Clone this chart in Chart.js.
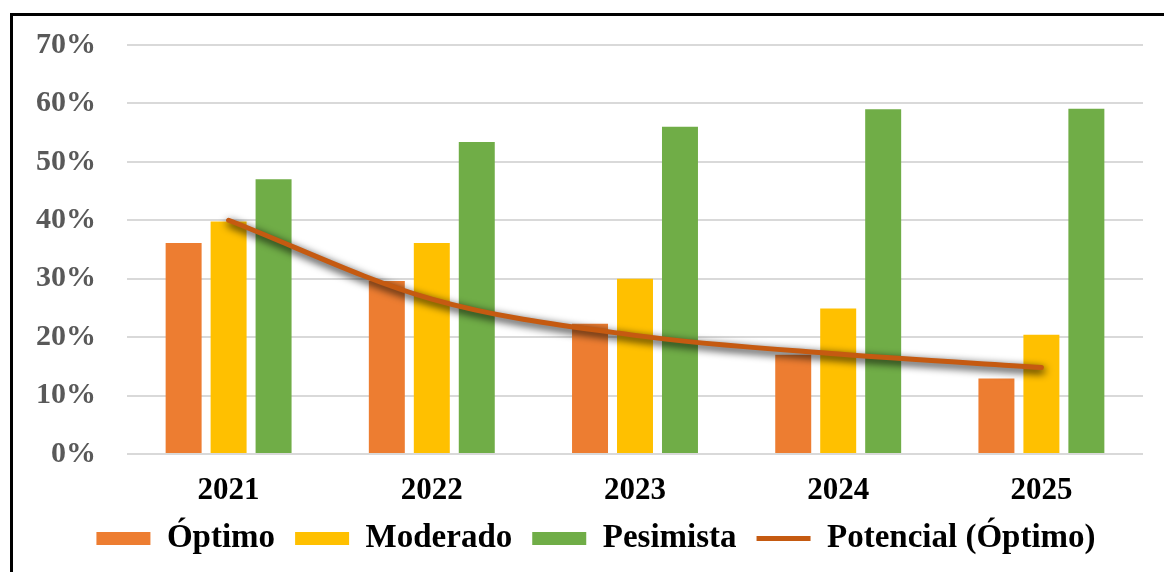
<!DOCTYPE html>
<html>
<head>
<meta charset="utf-8">
<script src="https://cdn.jsdelivr.net/npm/chart.js@4/dist/chart.umd.min.js"></script>
<style>
  html, body { margin: 0; padding: 0; background: #fff; }
  #wrap { position: relative; width: 1164px; height: 572px; overflow: hidden; }
  #frame { position: absolute; left: 10px; top: 13px; width: 1200px; height: 600px;
           border-top: 3px solid #000; border-left: 3px solid #000; pointer-events: none; }
</style>
</head>
<body>
<div id="wrap">
  <canvas id="escenarios" width="1164" height="572"></canvas>
  <div id="frame"></div>
</div>
<script>
//  data (percent)
const years = ['2021', '2022', '2023', '2024', '2025'];
const optimo = [36.1, 29.6, 22.3, 17.0, 12.9];
const moderado = [39.8, 36.1, 30.0, 24.9, 20.4];
const pesimista = [47.0, 53.4, 56.0, 59.0, 59.1];
const potencial = [40.0, 26.5, 20.3, 17.1, 14.8];   // trend line (Óptimo)
const yTicks = [0, 10, 20, 30, 40, 50, 60, 70];

const serif = "'Liberation Serif', 'Times New Roman', serif";

//  dark glow under the trend line
const lineShadow = {
    id: 'lineShadow',
    beforeDatasetDraw(chart, args) {
        if (args.index !== 3) return;
        const ctx = chart.ctx;
        ctx.save();
        ctx.shadowColor = '#000';
        ctx.shadowBlur = 9;
        ctx.shadowOffsetX = 1;
        ctx.shadowOffsetY = 3;
    },
    afterDatasetDraw(chart, args) {
        if (args.index !== 3) return;
        chart.ctx.restore();
    }
};

//  legend sits a bit right of centre in the original
const legendShift = {
    id: 'legendShift',
    afterLayout(chart) {
        chart.legend.left += 22;
        chart.legend.right += 22;
    }
};

const ctx = document.getElementById('escenarios').getContext('2d');
new Chart(ctx, {
    type: 'bar',
    data: {
        labels: years,
        datasets: [
            { label: 'Óptimo', data: optimo, backgroundColor: '#ED7D31', order: 1, pointStyle: 'rect' },
            { label: 'Moderado', data: moderado, backgroundColor: '#FFC000', order: 1, pointStyle: 'rect' },
            { label: 'Pesimista', data: pesimista, backgroundColor: '#70AD47', order: 1, pointStyle: 'rect' },
            { label: 'Potencial (Óptimo)', data: potencial, type: 'line',
              borderColor: '#C55A11', backgroundColor: '#C55A11', borderWidth: 5,
              borderCapStyle: 'round', pointRadius: 0, pointStyle: 'line',
              cubicInterpolationMode: 'monotone', order: 0 }
        ]
    },
    options: {
        responsive: false,
        animation: false,
        categoryPercentage: 0.664,
        barPercentage: 0.8,
        layout: { padding: { left: 5, right: 21, top: 20, bottom: 7 } },
        scales: {
            x: {
                afterFit: axis => { axis.height = 48; },
                grid: { display: false, drawTicks: false },
                border: { display: false },
                ticks: { color: '#000', padding: 18, font: { family: serif, size: 31, weight: 'bold' } }
            },
            y: {
                min: 0, max: 70,
                afterBuildTicks: axis => { axis.ticks = yTicks.map(v => ({ value: v })); },
                grid: { color: '#D9D9D9', lineWidth: 2, drawTicks: false },
                border: { display: false },
                ticks: { color: '#595959', padding: 31, callback: v => v + '%',
                         font: { family: serif, size: 30, weight: 'bold', lineHeight: 0.93 } }
            }
        },
        plugins: {
            legend: {
                position: 'bottom',
                labels: {
                    usePointStyle: true, pointStyleWidth: 54, boxHeight: 13,
                    padding: 20, color: '#000',
                    sort: (a, b) => a.datasetIndex - b.datasetIndex,
                    font: { family: serif, size: 33, weight: 'bold' }
                }
            },
            tooltip: { enabled: false }
        }
    },
    plugins: [lineShadow, legendShift]
});
</script>
</body>
</html>
